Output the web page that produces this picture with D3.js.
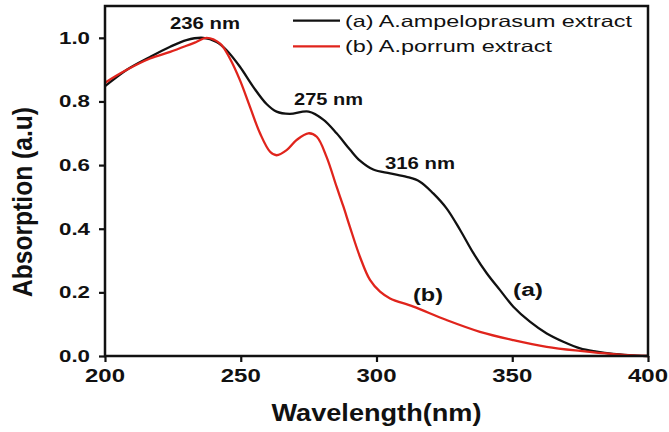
<!DOCTYPE html>
<html>
<head>
<meta charset="utf-8">
<script src="https://cdn.jsdelivr.net/npm/d3@7"></script>
<style>
  html, body { margin: 0; padding: 0; background: #fff; }
  svg { display: block; font-family: "Liberation Sans", Arial, sans-serif; }
</style>
</head>
<body>
<svg id="chart" width="669" height="432"></svg>
<script>
// ---- Data ----
const waveA = [200, 200.6, 207.9, 216.6, 224, 230, 236.2, 241.1, 244.8, 249.7, 254.6, 259.5, 263.2, 268, 275, 280.4, 285.3, 290.2, 293.9, 298.8, 305, 311.1, 316, 320.9, 325.8, 330.8, 335.7, 340.6, 345.5, 350.4, 356.5, 362.7, 368.8, 375, 381.1, 387.2, 393, 400];
const absA  = [0.848, 0.852, 0.899, 0.94, 0.972, 0.993, 1.0, 0.987, 0.961, 0.909, 0.846, 0.792, 0.768, 0.761, 0.768, 0.743, 0.70, 0.649, 0.614, 0.586, 0.574, 0.563, 0.548, 0.511, 0.464, 0.396, 0.323, 0.26, 0.207, 0.155, 0.108, 0.071, 0.045, 0.024, 0.014, 0.007, 0.003, 0.0];

const waveB = [200, 200.6, 207.9, 216.6, 224, 230, 233.6, 237.4, 242.4, 246.0, 249.7, 253.4, 257.1, 260.8, 263.2, 266.9, 270.6, 274.9, 278, 281.6, 285.3, 287.8, 290.2, 293.9, 297.6, 301.3, 305, 313.6, 325.8, 338.1, 350.4, 362.7, 375, 387.2, 400];
const absB  = [0.858, 0.862, 0.899, 0.935, 0.956, 0.975, 0.987, 1.0, 0.982, 0.935, 0.867, 0.783, 0.70, 0.642, 0.631, 0.647, 0.679, 0.70, 0.689, 0.626, 0.532, 0.47, 0.406, 0.312, 0.239, 0.202, 0.181, 0.155, 0.113, 0.076, 0.05, 0.029, 0.016, 0.006, 0.0];

const xTicks = [200, 250, 300, 350, 400];
const yTicks = [0.0, 0.2, 0.4, 0.6, 0.8, 1.0];
const seriesNames = ["(a) A.ampeloprasum extract", "(b) A.porrum extract"];
const seriesColors = ["#111111", "#e0241c"];
const peakLabels = ["236 nm", "275 nm", "316 nm"];
const curveLabels = ["(a)", "(b)"];

// ---- Layout ----
const svg = d3.select("#chart");
const L = 105, R = 648, T = 6, B = 356;
const x = d3.scaleLinear().domain([200, 400]).range([L, R]);
const y = d3.scaleLinear().domain([0, 1.1]).range([B, T]);

function txt(g, s, opts) {
  const t = g.append("text")
    .attr("x", opts.x).attr("y", opts.y)
    .attr("font-size", opts.size)
    .attr("font-weight", opts.bold ? "bold" : "normal")
    .attr("fill", opts.fill || "#111")
    .attr("text-anchor", opts.anchor || "start")
    .text(s);
  if (opts.len) t.attr("textLength", opts.len).attr("lengthAdjust", "spacingAndGlyphs");
  if (opts.transform) t.attr("transform", opts.transform);
  return t;
}

// ---- Curves ----
const line = d3.line().x(d => x(d[0])).y(d => y(d[1])).curve(d3.curveCatmullRom.alpha(0.5));
const dataA = waveA.map((w, i) => [w, absA[i]]);
const dataB = waveB.map((w, i) => [w, absB[i]]);

svg.append("path").datum(dataA).attr("d", line)
  .attr("fill", "none").attr("stroke", seriesColors[0]).attr("stroke-width", 2.3)
  .attr("stroke-linejoin", "round");
svg.append("path").datum(dataB).attr("d", line)
  .attr("fill", "none").attr("stroke", seriesColors[1]).attr("stroke-width", 2.3)
  .attr("stroke-linejoin", "round");

// ---- Frame ----
svg.append("rect").attr("x", L).attr("y", T).attr("width", R - L).attr("height", B - T)
  .attr("fill", "none").attr("stroke", "#111").attr("stroke-width", 2.5);

// ---- Axes ----
const xAxis = d3.axisBottom(x).tickValues(xTicks).tickSize(6).tickFormat("");
const gx = svg.append("g").attr("transform", `translate(0,${B})`).call(xAxis);
gx.select(".domain").remove();
gx.selectAll(".tick line").attr("stroke", "#111").attr("stroke-width", 2.2);

const yAxis = d3.axisLeft(y).tickValues(yTicks).tickSize(6).tickFormat("");
const gy = svg.append("g").attr("transform", `translate(${L},0)`).call(yAxis);
gy.select(".domain").remove();
gy.selectAll(".tick line").attr("stroke", "#111").attr("stroke-width", 2.2);

// tick labels
const gl = svg.append("g");
xTicks.forEach(v => {
  txt(gl, String(v), {x: x(v), y: 382, size: 17.5, bold: true, anchor: "middle", len: 40});
});
yTicks.forEach(v => {
  txt(gl, v.toFixed(1), {x: 90, y: y(v) + 6, size: 16.5, bold: true, anchor: "end", len: 31});
});

// axis titles
txt(svg, "Wavelength(nm)", {x: (L + R) / 2, y: 421, size: 23.5, bold: true, anchor: "middle", len: 210});
txt(svg, "Absorption (a.u)", {x: 0, y: 0, size: 27, bold: true, anchor: "middle", len: 190,
  transform: "translate(32,202) rotate(-90)"});

// ---- Legend ----
const lg = svg.append("g");
[[20.7, 26.7], [46.3, 51.7]].forEach((p, i) => {
  lg.append("line").attr("x1", 293).attr("x2", 340).attr("y1", p[0]).attr("y2", p[0])
    .attr("stroke", seriesColors[i]).attr("stroke-width", 2.3);
});
txt(lg, seriesNames[0], {x: 345, y: 27, size: 16.5, len: 287});
txt(lg, seriesNames[1], {x: 345, y: 52, size: 16.5, len: 207});

// ---- Annotations ----
txt(svg, peakLabels[0], {x: 170, y: 28.5, size: 16, bold: true, len: 70});
txt(svg, peakLabels[1], {x: 294, y: 104.5, size: 16, bold: true, len: 69});
txt(svg, peakLabels[2], {x: 385, y: 168.5, size: 16, bold: true, len: 70});
txt(svg, curveLabels[0], {x: 513, y: 296, size: 17.5, bold: true, len: 30});
txt(svg, curveLabels[1], {x: 413, y: 301, size: 17.5, bold: true, len: 30});
</script>
</body>
</html>
